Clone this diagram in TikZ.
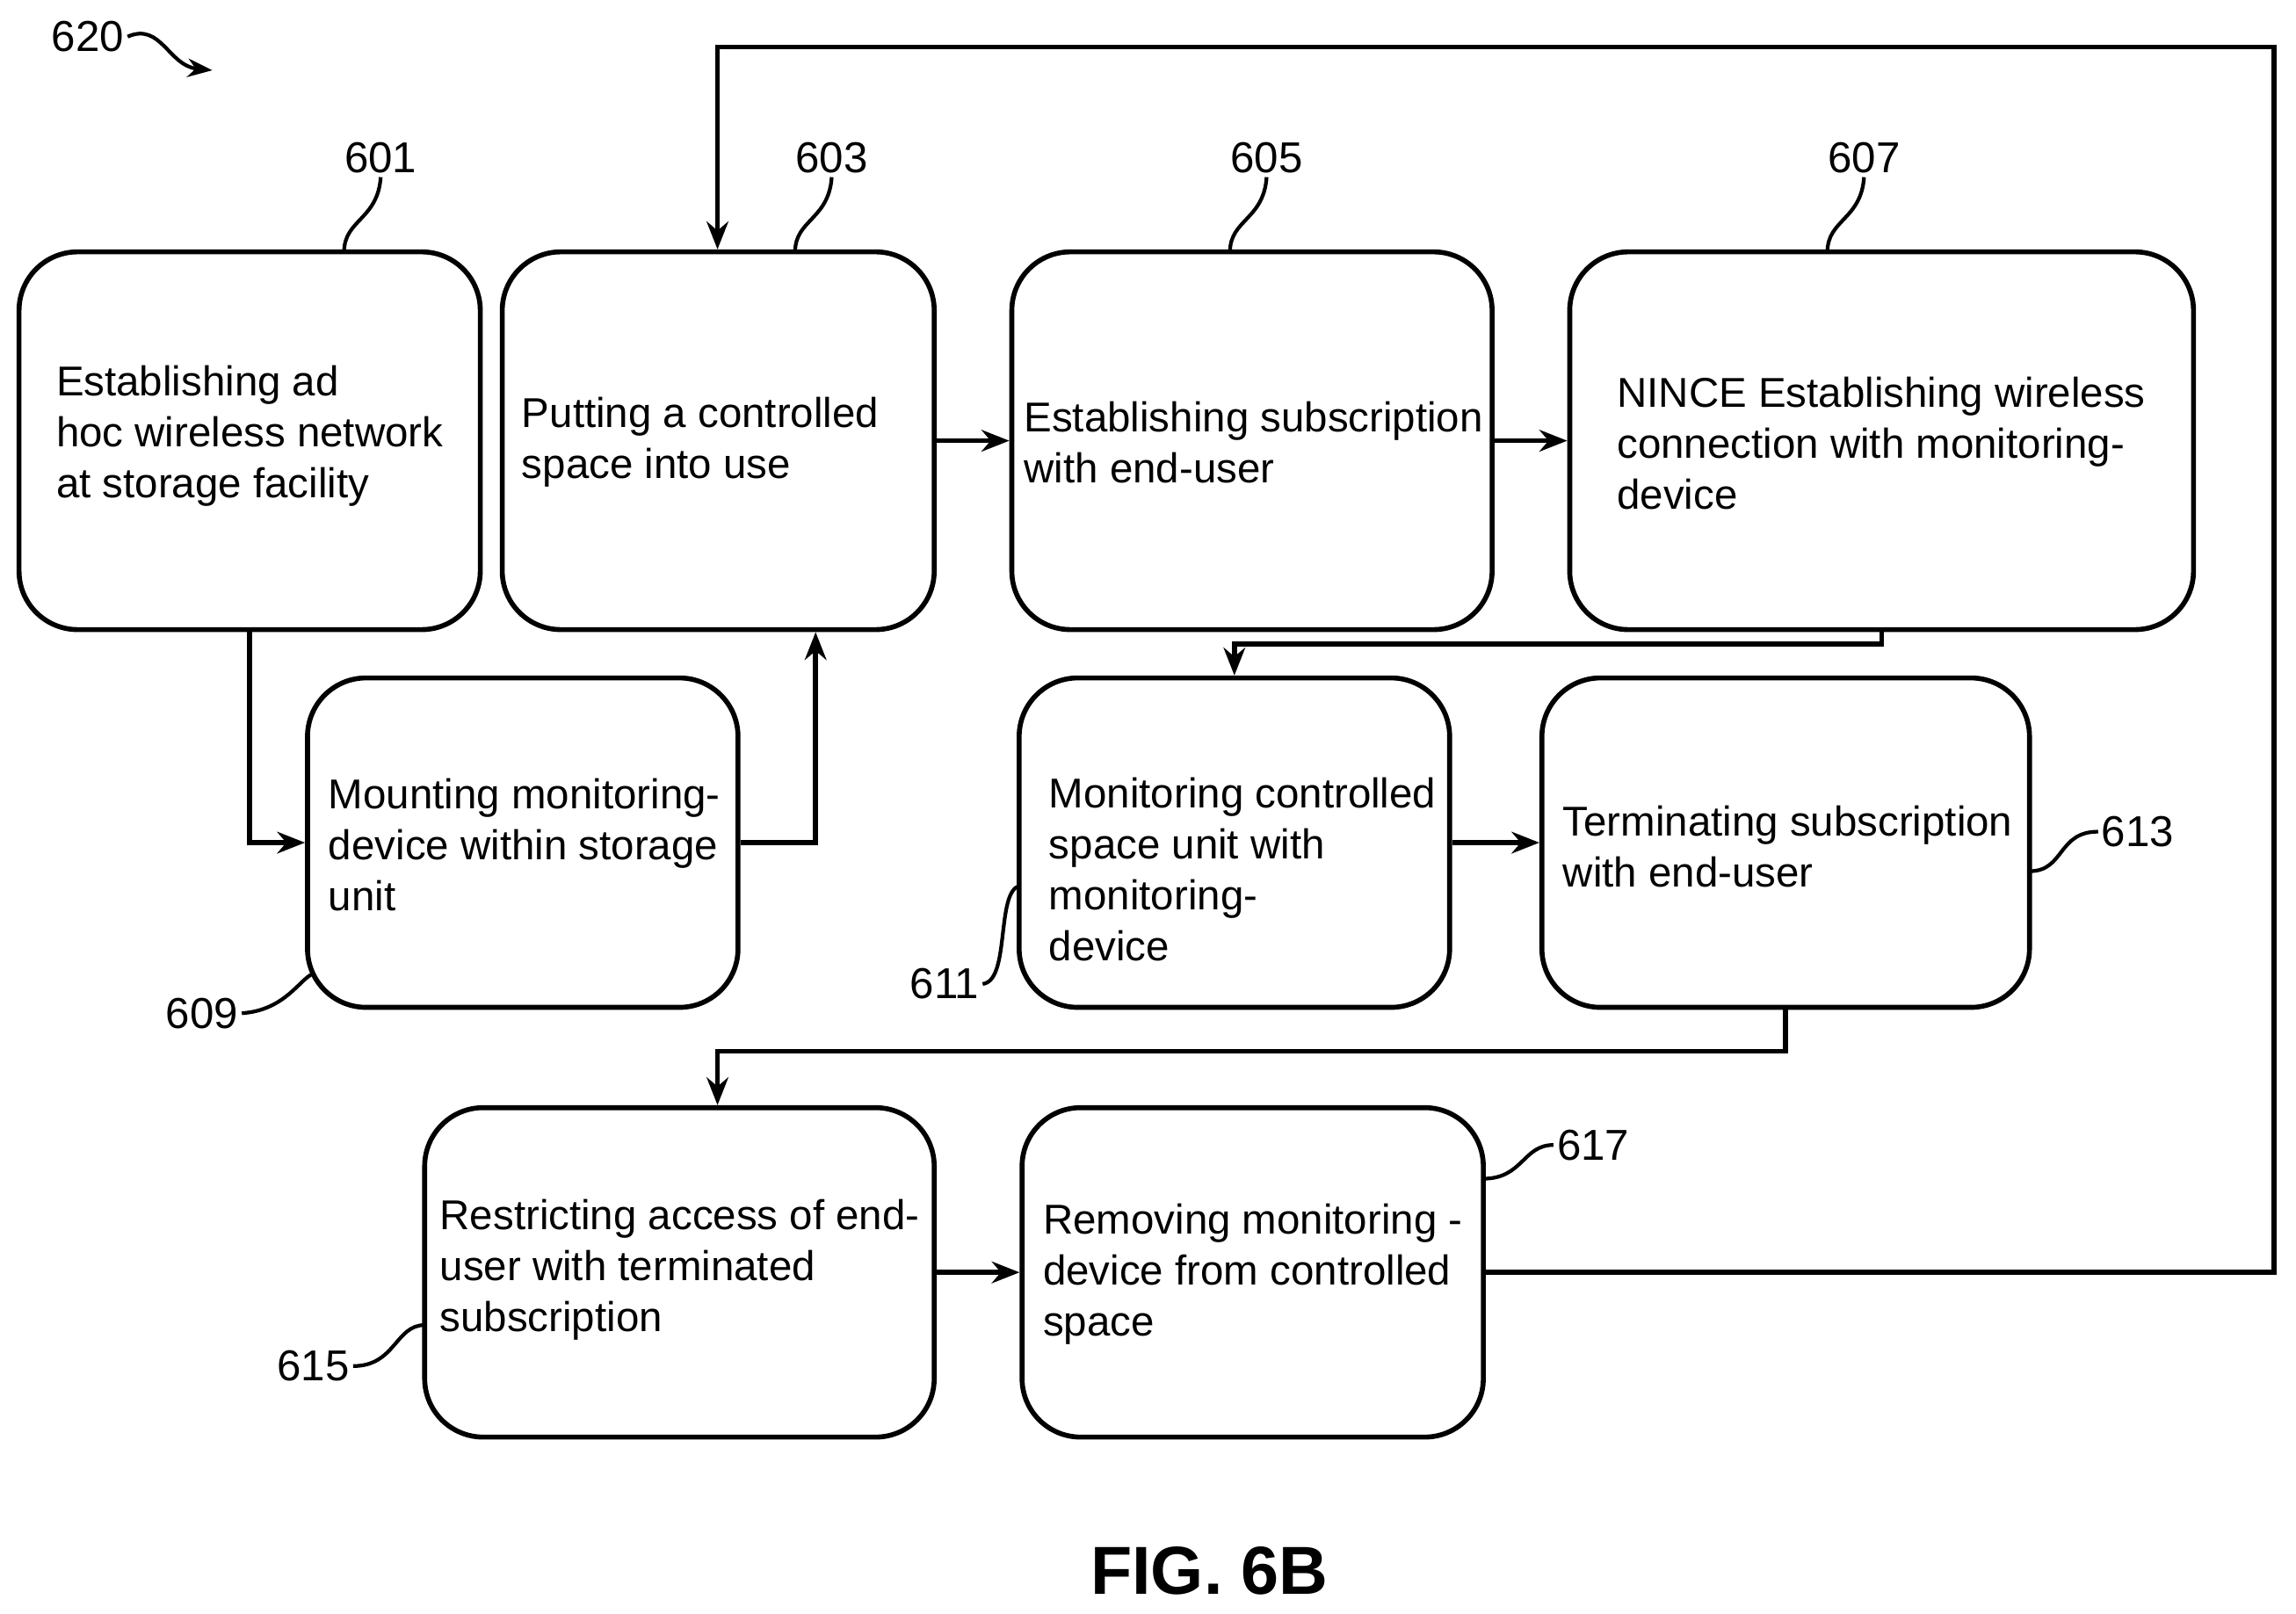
\documentclass[tikz,border=0pt]{standalone}
\usepackage{fontspec}
\setmainfont{Liberation Sans}
\usetikzlibrary{arrows.meta}
\def\s{0.016665cm}
\tikzset{
  box/.style={draw, line width=1.6pt, rounded corners=40*\s, inner sep=0pt},
  txt/.style={anchor=west, align=left, inner sep=0pt, font=\fontsize{13.5}{16.5}\selectfont},
  num/.style={inner sep=1pt, font=\fontsize{14}{16}\selectfont},
  lead/.style={line width=1.2pt},
  arrow/.style={line width=1.6pt, -{Stealth[length=9pt,width=7pt]}}
}
\begin{document}
\begin{tikzpicture}[x=\s, y=-\s]
\useasboundingbox (0,0) rectangle (1568,1102);

% boxes
\node (b601) [box, minimum width=315*\s, minimum height=258*\s] at (170.5,301) {};
\node (b603) [box, minimum width=295*\s, minimum height=258*\s] at (490.5,301) {};
\node (b605) [box, minimum width=328*\s, minimum height=258*\s] at (855,301) {};
\node (b607) [box, minimum width=426*\s, minimum height=258*\s] at (1285,301) {};
\node (b609) [box, minimum width=294*\s, minimum height=225*\s] at (357,575.5) {};
\node (b611) [box, minimum width=294*\s, minimum height=225*\s] at (843,575.5) {};
\node (b613) [box, minimum width=333*\s, minimum height=225*\s] at (1219.5,575.5) {};
\node (b615) [box, minimum width=348*\s, minimum height=225*\s] at (464,869) {};
\node (b617) [box, minimum width=315*\s, minimum height=225*\s] at (855.5,869) {};

% texts
\node (t601) [txt] at (38,298) {Establishing ad\\hoc wireless network\\at storage facility};
\node (t603) [txt] at (356,302) {Putting a controlled\\space into use};
\node (t605) [txt] at (699,302) {Establishing subscription\\with end-user};
\node (t607) [txt] at (1104,303) {NINCE Establishing wireless\\connection with monitoring-\\device};
\node (t609) [txt] at (224,577) {Mounting monitoring-\\device within storage\\unit};
\node (t611) [txt] at (716,594) {Monitoring controlled\\space unit with\\monitoring-\\device};
\node (t613) [txt] at (1067,578) {Terminating subscription\\ with end-user};
\node (t615) [txt] at (300,867) {Restricting access of end-\\user with terminated\\subscription};
\node (t617) [txt] at (712,870) {Removing monitoring -\\device from controlled\\space};

% reference numbers
\node (n601) [num] at (260,108) {601};
\node (n603) [num] at (568,108) {603};
\node (n605) [num] at (865,108) {605};
\node (n607) [num] at (1273,108) {607};
\node (n609) [num] at (138,692) {609};
\node (n611) [num] at (645,672) {611};
\node (n613) [num] at (1460,568) {613};
\node (n615) [num] at (214,933) {615};
\node (n617) [num] at (1088,782) {617};
\node (n620) [num] at (60,25) {620};
\node (fig) [font=\bfseries\fontsize{22}{24}\selectfont] at (826,1073) {FIG. 6B};

\draw [lead] (235,172) .. controls (235,150) and (258,150) .. (n601.south);
\draw [lead] (543,172) .. controls (543,150) and (566,150) .. (n603.south);
\draw [lead] (840,172) .. controls (840,150) and (863,150) .. (n605.south);
\draw [lead] (1248,172) .. controls (1248,150) and (1271,150) .. (n607.south);
\draw [lead] (n609.east) .. controls (195,690) and (205,668) .. (214,665);
\draw [lead] (n611.east) .. controls (690,670) and (680,610) .. (696,605);
\draw [lead] (1386,595) .. controls (1410,595) and (1405,568) .. (n613.west);
\draw [lead] (n615.east) .. controls (270,933) and (270,905) .. (290,905);
\draw [lead] (1013,805) .. controls (1040,805) and (1040,782) .. (n617.west);
\draw [lead, -{Stealth[length=8pt,width=6pt]}] (n620.east) .. controls (110,15) and (115,45) .. (145,48);

% connectors
\draw [arrow] (b601.south) |- (b609.west);
\draw [arrow] (b609.east) -| (b603.south -| 557,0);
\draw [arrow] (b603.east) -- (b605.west);
\draw [arrow] (b605.east) -- (b607.west);
\draw [arrow] (b607.south) |- (843,440) -- (b611.north);
\draw [arrow] (b611.east) -- (b613.west);
\draw [arrow] (b613.south) |- (490,718) -- (b615.north -| 490,0);
\draw [arrow] (b615.east) -- (b617.west);
\draw [arrow] (b617.east) -| (1553,32) -| (b603.north -| 490,0);
\end{tikzpicture}
\end{document}
